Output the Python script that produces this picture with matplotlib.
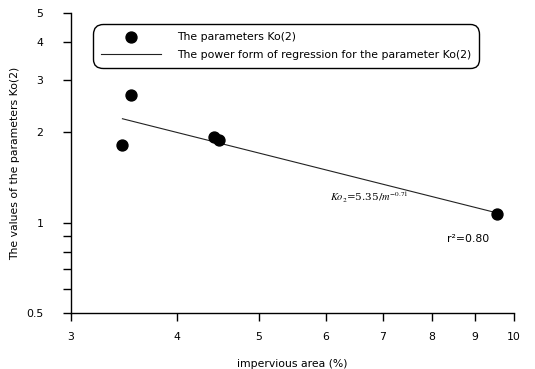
import numpy as np
import matplotlib
matplotlib.use("Agg")
import matplotlib.pyplot as plt
from matplotlib.ticker import FixedLocator, FixedFormatter, NullFormatter, NullLocator

# Observed parameter values vs impervious area
impervious = [3.45, 3.53, 4.43, 4.49, 9.54]
ko2 = [1.81, 2.67, 1.93, 1.88, 1.07]

# Power regression Ko2 = a / m^b
coef_a = 5.35
coef_b = 0.71
r_squared = 0.80

x_ticks = [3, 4, 5, 6, 7, 8, 9, 10]
y_major = [0.5, 1, 2, 3, 4, 5]
y_major_labels = ["0.5", "1", "2", "3", "4", "5"]
y_minor = [0.6, 0.7, 0.8, 0.9]

plt.rcParams['font.family'] = ['DejaVu Sans']
FS = 7.8

fig = plt.figure(figsize=(5.35, 3.69), dpi=100)
ax = fig.add_axes([71/535, 1 - 313/369, (514 - 71)/535, (313 - 13)/369])

ax.set_xscale('log')
ax.set_yscale('log')
ax.set_xlim(3, 10)
ax.set_ylim(0.5, 5)

xs = np.linspace(min(impervious), max(impervious), 100)
ax.plot(xs, coef_a / xs ** coef_b, color='#222222', lw=0.8,
        label='The power form of regression for the parameter Ko(2)', zorder=2)
ax.scatter(impervious, ko2, s=62, color='black', zorder=3,
           label='The parameters Ko(2)')

for side in ('top', 'right'):
    ax.spines[side].set_visible(False)
for side in ('left', 'bottom'):
    ax.spines[side].set_linewidth(1.0)

ax.xaxis.set_major_locator(FixedLocator(x_ticks))
ax.xaxis.set_major_formatter(FixedFormatter([str(t) for t in x_ticks]))
ax.xaxis.set_minor_locator(NullLocator())
ax.xaxis.set_minor_formatter(NullFormatter())
ax.yaxis.set_major_locator(FixedLocator(y_major))
ax.yaxis.set_major_formatter(FixedFormatter(y_major_labels))
ax.yaxis.set_minor_locator(FixedLocator(y_minor))
ax.yaxis.set_minor_formatter(NullFormatter())

ax.tick_params(axis='x', which='major', direction='out', length=6, width=1,
               pad=8, labelsize=FS)
ax.tick_params(axis='y', which='both', direction='out', length=6, width=1,
               pad=14, labelsize=FS)

ax.set_xlabel('impervious area (%)', fontsize=FS, labelpad=12)
ax.set_ylabel('The values of the parameters Ko(2)', fontsize=FS, labelpad=4)

handles, labels = ax.get_legend_handles_labels()
leg = ax.legend(handles[::-1], labels[::-1], loc='upper left',
                bbox_to_anchor=(93/535, 1 - 24/369), bbox_transform=fig.transFigure,
                fontsize=FS, frameon=True, fancybox=True, framealpha=1,
                edgecolor='black', handlelength=5.5, handletextpad=1.5,
                borderpad=0.75, labelspacing=0.75, borderaxespad=0)
leg.get_frame().set_linewidth(1.0)
leg.get_frame().set_boxstyle('round', pad=0, rounding_size=0.9)

ax.text(6.07, 1.218, r'$Ko_2$=5.35/$m^{-0.71}$', fontsize=7.5, va='center',
        family='serif', math_fontfamily='stix')
ax.text(8.34, 0.882, 'r²=0.80', fontsize=FS, va='center')

fig.savefig('out.png', dpi=100)
